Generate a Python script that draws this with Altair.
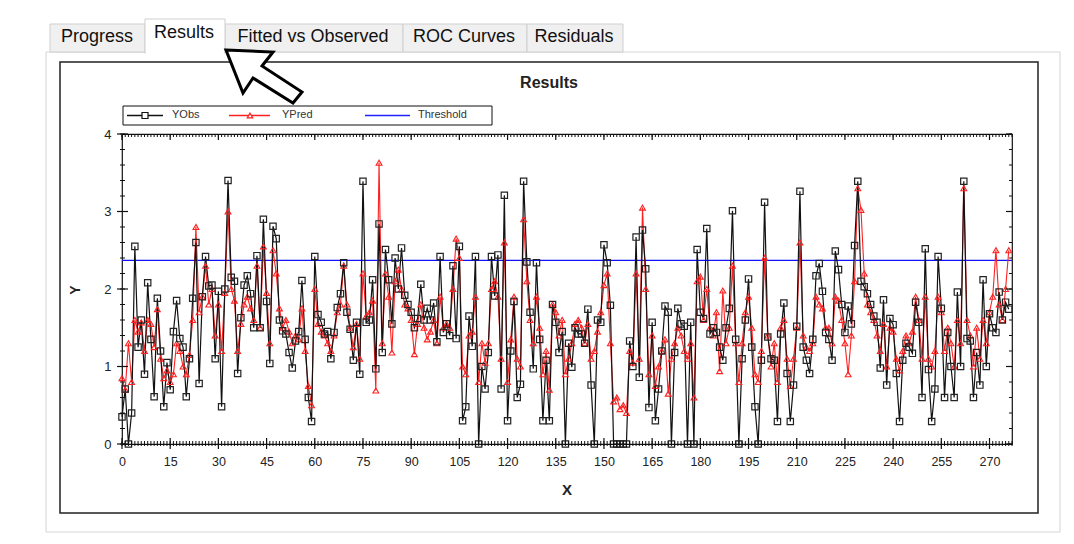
import altair as alt
import pandas as pd

FONT = "Liberation Sans"

# ---------------- data ----------------
x_max = 277
threshold = 2.37
x_tick_values = list(range(0, 271, 15))
y_tick_values = [0, 1, 2, 3, 4]
tab_labels = ["Progress", "Results", "Fitted vs Observed", "ROC Curves", "Residuals"]
legend_labels = ["YObs", "YPred", "Threshold"]
chart_title = "Results"
x_title = "X"
y_title = "Y"

y_obs = [
    0.35, 0.71, 0.0, 0.4, 2.55, 1.25, 1.6, 0.9, 2.08, 1.35,
    0.61, 1.88, 1.2, 0.48, 1.05, 0.7, 1.45, 1.85, 1.36, 1.25,
    0.61, 1.1, 1.88, 2.6, 0.78, 1.9, 2.42, 2.04, 2.05, 1.1,
    1.97, 0.48, 2.0, 3.4, 2.15, 2.1, 0.91, 1.63, 2.05, 2.17,
    1.94, 1.5, 2.43, 1.5, 2.9, 1.84, 1.04, 2.81, 2.65, 1.6,
    1.46, 1.42, 1.18, 0.98, 1.33, 1.45, 2.11, 1.35, 0.6, 0.29,
    2.42, 1.67, 1.57, 1.42, 1.45, 1.1, 1.44, 1.76, 1.94, 2.34,
    1.7, 1.48, 1.08, 1.57, 0.9, 3.39, 1.57, 1.6, 2.12, 0.97,
    2.84, 1.18, 2.51, 2.12, 1.55, 2.4, 2.0, 2.53, 1.92, 1.8,
    1.7, 1.5, 1.62, 2.06, 1.6, 1.75, 1.6, 1.82, 1.32, 2.42,
    1.44, 1.55, 1.4, 2.3, 1.36, 2.55, 0.3, 0.48, 1.65, 1.26,
    2.42, 0.0, 1.0, 0.71, 1.18, 2.42, 1.91, 2.44, 0.71, 3.21,
    0.3, 1.2, 1.84, 0.6, 0.77, 3.39, 2.35, 1.7, 0.97, 2.34,
    1.35, 0.3, 1.08, 0.3, 1.8, 1.57, 1.18, 1.45, 0.0, 1.3,
    0.99, 1.5, 1.42, 1.42, 1.3, 1.74, 0.76, 0.0, 1.6, 1.57,
    2.57, 2.34, 1.79, 0.0, 0.0, 0.0, 0.0, 0.0, 1.33, 1.0,
    2.67, 0.86, 2.76, 2.26, 0.47, 1.57, 0.3, 0.71, 1.2, 1.78,
    1.7, 0.0, 1.18, 1.75, 1.55, 1.52, 0.0, 1.57, 0.0, 2.51,
    1.7, 1.62, 2.78, 1.42, 1.5, 1.44, 1.25, 1.08, 1.5, 1.75,
    3.01, 1.35, 0.0, 1.1, 1.6, 2.13, 1.25, 0.48, 0.0, 1.08,
    3.12, 1.38, 1.1, 1.08, 0.29, 1.42, 1.82, 0.91, 0.29, 0.76,
    1.52, 3.26, 1.25, 1.08, 0.91, 1.35, 2.17, 2.33, 1.97, 1.44,
    1.35, 1.08, 2.49, 2.25, 1.8, 1.44, 1.78, 1.55, 2.56, 3.39,
    2.1, 2.03, 1.94, 1.8, 1.65, 1.57, 0.98, 1.86, 0.76, 1.62,
    1.54, 0.91, 0.29, 1.08, 1.3, 1.25, 1.17, 1.83, 1.57, 0.6,
    2.52, 0.96, 0.29, 0.71, 2.42, 1.75, 0.6, 1.44, 1.0, 0.6,
    1.96, 1.0, 3.39, 1.36, 1.33, 0.6, 1.18, 0.76, 2.12, 1.0,
    1.68, 1.5, 1.44, 1.96, 1.6, 1.83, 1.74,
]

y_pred = [
    0.85, 0.7, 1.3, 0.8, 1.6, 1.45, 1.57, 1.2, 1.6, 1.55,
    1.25, 1.74, 1.1, 0.85, 0.95, 0.8, 0.9, 1.3, 1.2, 1.0,
    0.9, 1.15, 1.6, 2.8, 1.7, 1.9, 2.3, 1.8, 2.0, 1.4,
    1.8, 1.2, 1.95, 3.0, 2.0, 1.85, 1.2, 1.55, 1.8, 1.9,
    1.75, 1.6, 2.3, 1.5, 2.55, 1.95, 1.3, 2.5, 2.2, 1.75,
    1.5, 1.6, 1.45, 1.3, 1.4, 1.35, 1.75, 1.2, 0.75, 0.5,
    2.0, 1.55, 1.45, 1.4, 1.3, 1.2, 1.4, 1.7, 1.8, 2.3,
    1.8, 1.5, 1.25, 1.55, 1.1, 2.2, 1.65, 1.7, 1.85, 0.69,
    3.63, 1.3, 2.2, 1.9, 1.18, 2.1, 2.25, 2.0, 1.8, 1.75,
    1.6, 1.16, 1.55, 1.8, 1.5, 1.35, 1.45, 1.6, 1.3, 1.9,
    1.5, 1.55, 1.5, 2.0, 2.65, 2.4, 1.0, 0.9, 1.4, 1.45,
    1.9, 0.8, 1.3, 1.05, 1.3, 2.0, 2.1, 1.9, 1.1, 2.6,
    0.8, 1.35, 1.9, 1.1, 1.0, 2.9, 2.1, 1.6, 1.3, 1.9,
    1.5, 0.9, 1.2, 0.7, 1.8, 1.7, 1.4, 1.6, 0.9, 1.1,
    1.3, 1.55, 1.6, 1.5, 1.3, 1.55, 1.1, 1.2, 1.45, 1.7,
    2.05, 2.2, 1.3, 0.55, 0.6, 0.45, 0.5, 0.4, 1.2, 1.05,
    2.2, 1.1, 3.05, 2.0, 0.9, 1.4, 0.75, 1.0, 1.2, 1.35,
    0.65, 1.1, 1.3, 1.5, 1.4, 1.2, 1.1, 1.3, 0.6, 2.1,
    2.16, 1.6, 2.0, 1.5, 1.4, 1.7, 0.94, 1.98, 1.3, 1.5,
    2.3, 1.3, 0.8, 1.3, 1.7, 1.9, 1.5, 0.9, 0.8, 1.2,
    2.4, 1.4, 1.0, 1.3, 0.8, 1.5, 1.6, 1.1, 0.75, 1.1,
    1.5, 2.6, 1.4, 1.25, 1.2, 1.3, 1.9, 1.8, 1.75, 1.5,
    1.5, 1.3, 1.9, 1.85, 1.6, 1.3, 0.9, 1.4, 2.1, 3.3,
    3.02, 2.2, 1.8, 1.7, 1.6, 1.4, 1.2, 1.55, 1.0, 1.5,
    1.45, 1.1, 0.95, 1.2, 1.4, 1.3, 1.45, 1.9, 1.6, 1.1,
    1.9, 1.1, 1.0, 1.2, 1.9, 1.7, 1.2, 1.5, 1.3, 1.0,
    1.6, 1.3, 3.3, 1.6, 1.4, 1.0, 1.5, 1.1, 1.6, 1.3,
    1.7, 1.9, 2.5, 1.8, 1.6, 2.0, 2.5,
]

n = min(len(y_obs), len(y_pred))
df = pd.DataFrame({"i": list(range(n)), "obs": y_obs[:n], "pred": y_pred[:n]})

# ---------------- layout ----------------
OX, OY = 122, 134      # plot-area origin on the page
W, H = 890, 310        # plot-area size

ONE = pd.DataFrame({"k": [0]})


def px(v):
    return v - OX


def py(v):
    return v - OY


def box(x1, y1, x2, y2, fill=None, stroke=None, sw=1.0):
    props = {"strokeWidth": sw}
    if fill is None:
        props["fill"] = "white"
        props["fillOpacity"] = 0
    else:
        props["fill"] = fill
    if stroke is not None:
        props["stroke"] = stroke
    return alt.Chart(ONE).mark_rect(**props).encode(
        x=alt.value(px(x1)), x2=alt.value(px(x2)),
        y=alt.value(py(y1)), y2=alt.value(py(y2)))


def seg(x1, y1, x2, y2, color, sw=1.0):
    return alt.Chart(ONE).mark_rule(color=color, strokeWidth=sw).encode(
        x=alt.value(px(x1)), x2=alt.value(px(x2)),
        y=alt.value(py(y1)), y2=alt.value(py(y2)))


def label(s, x, y, size=13, weight="normal", color="#111", align="center", angle=0):
    return alt.Chart(pd.DataFrame({"t": [s]})).mark_text(
        font=FONT, fontSize=size, fontWeight=weight, color=color,
        align=align, baseline="middle", angle=angle
    ).encode(x=alt.value(px(x)), y=alt.value(py(y)), text="t:N")


def marker(x, y, shape, size, stroke, fill="white", sw=1.0, filled=True):
    return alt.Chart(ONE).mark_point(
        shape=shape, size=size, filled=filled, fill=fill, stroke=stroke,
        strokeWidth=sw, opacity=1
    ).encode(x=alt.value(px(x)), y=alt.value(py(y)))


layers = []

# tab panel
layers.append(box(46, 52, 1060, 532, stroke="#d4d4d4", sw=1))
tab_edges = [(50, 145), (145, 225), (225, 403), (403, 527), (527, 623)]
tab_centers = [97, 184, 313, 464, 574]
for k, (a, b) in enumerate(tab_edges):
    if k == 1:
        continue
    layers.append(box(a, 24, b, 52, fill="#f0f0f0", stroke="#cfcfcf", sw=1))
layers.append(box(145, 19, 225, 53, fill="white", stroke="#cfcfcf", sw=1))
layers.append(box(146, 49, 224, 55, fill="white"))
for k, s in enumerate(tab_labels):
    layers.append(label(s, tab_centers[k], 33 if k == 1 else 37, size=18, color="#111"))

# chart frame and title
layers.append(box(60, 62, 1038, 513, stroke="#222", sw=1.5))
layers.append(label(chart_title, 549, 83, size=16, weight="bold", color="#222"))

# legend
layers.append(box(123, 106, 492, 125, fill="white", stroke="#111", sw=1))
layers.append(seg(127, 115.5, 163, 115.5, "#111", 1.3))
layers.append(marker(145, 115.5, "square", 36, "#111", filled=False, sw=1.2))
layers.append(label(legend_labels[0], 172, 115, size=11, color="#333", align="left"))
layers.append(seg(229, 115.5, 270, 115.5, "#ff2020", 1.3))
layers.append(marker(250, 115.5, "triangle-up", 30, "#ff2020", filled=False, sw=1.2))
layers.append(label(legend_labels[1], 282, 115, size=11, color="#333", align="left"))
layers.append(seg(365, 115.5, 410, 115.5, "#2020ff", 1.3))
layers.append(label(legend_labels[2], 418, 115, size=11, color="#333", align="left"))

# axis titles
layers.append(label(y_title, 76, 290, size=14, weight="bold", color="#222", angle=270))
layers.append(label(x_title, 567, 490, size=15, weight="bold", color="#222"))

# ---------------- data layers ----------------
xs = alt.Scale(domain=[0, x_max], nice=False, zero=False)
ys = alt.Scale(domain=[0, 4], nice=False)
x_axis = alt.Axis(values=x_tick_values, ticks=False, domain=False, grid=False,
                  labelPadding=11, labelFont=FONT, labelFontSize=12.5,
                  labelColor="#222", labelFlush=False, labelOverlap=False,
                  title=None, zindex=1, format="d")
y_axis = alt.Axis(values=y_tick_values, ticks=False, domain=False, grid=False,
                  labelPadding=11, labelFont=FONT, labelFontSize=13,
                  labelColor="#222", labelFlush=False, labelOverlap=False,
                  title=None, zindex=1, format="d")
X = alt.X("i:Q", scale=xs, axis=x_axis)

layers.append(
    alt.Chart(pd.DataFrame({"thr": [threshold]})).mark_rule(color="#1010ff", strokeWidth=1.3)
    .encode(y=alt.Y("thr:Q", scale=ys, axis=y_axis))
)
layers.append(
    alt.Chart(df).mark_line(color="#ff2020", strokeWidth=1.1)
    .encode(x=X, y=alt.Y("pred:Q", scale=ys, axis=y_axis))
)
layers.append(
    alt.Chart(df).mark_line(color="#111", strokeWidth=1.2)
    .encode(x=X, y=alt.Y("obs:Q", scale=ys, axis=y_axis))
)
layers.append(
    alt.Chart(df).mark_point(shape="triangle-up", size=34, filled=False, color="#ff2020",
                             strokeWidth=1.1, opacity=1)
    .encode(x=X, y=alt.Y("pred:Q", scale=ys, axis=y_axis))
)
layers.append(
    alt.Chart(df).mark_point(shape="square", size=40, filled=False, color="#222",
                             strokeWidth=1.2, opacity=1)
    .encode(x=X, y=alt.Y("obs:Q", scale=ys, axis=y_axis))
)

# ruler-style ticks on all four sides
xt_minor = pd.DataFrame({"t": list(range(0, x_max + 1))})
xt_major = pd.DataFrame({"t": x_tick_values})
yt_minor = pd.DataFrame({"v": [round(k * 0.2, 1) for k in range(21)]})
yt_major = pd.DataFrame({"v": y_tick_values})
XT = alt.X("t:Q", scale=xs, axis=x_axis)
YV = alt.Y("v:Q", scale=ys, axis=y_axis)
layers.append(alt.Chart(xt_minor).mark_rule(color="#111", strokeWidth=1)
              .encode(x=XT, y=alt.value(H - 3), y2=alt.value(H + 2)))
layers.append(alt.Chart(xt_minor).mark_rule(color="#111", strokeWidth=1)
              .encode(x=XT, y=alt.value(0), y2=alt.value(3)))
layers.append(alt.Chart(xt_major).mark_rule(color="#111", strokeWidth=1.2)
              .encode(x=XT, y=alt.value(H - 6), y2=alt.value(H + 5)))
layers.append(alt.Chart(xt_major).mark_rule(color="#111", strokeWidth=1.2)
              .encode(x=XT, y=alt.value(0), y2=alt.value(6)))
layers.append(alt.Chart(yt_minor).mark_rule(color="#111", strokeWidth=1)
              .encode(y=YV, x=alt.value(-2), x2=alt.value(3)))
layers.append(alt.Chart(yt_minor).mark_rule(color="#111", strokeWidth=1)
              .encode(y=YV, x=alt.value(W - 3), x2=alt.value(W)))
layers.append(alt.Chart(yt_major).mark_rule(color="#111", strokeWidth=1.2)
              .encode(y=YV, x=alt.value(-5), x2=alt.value(6)))
layers.append(alt.Chart(yt_major).mark_rule(color="#111", strokeWidth=1.2)
              .encode(y=YV, x=alt.value(W - 6), x2=alt.value(W)))

# pointer arrow (white with black outline)
arrow_path = ("M -0.76 -0.52 L 0.18 -0.48 L -0.04 -0.2 L 0.76 0.32 "
              "L 0.58 0.54 L -0.22 0.04 L -0.42 0.34 Z")
layers.append(marker(264, 76, arrow_path, 10000, "#000", fill="white", sw=3))

chart = (
    alt.layer(*layers)
    .properties(
        width=W, height=H,
        autosize=alt.AutoSizeParams(type="none"),
        padding={"left": OX, "top": OY, "right": 1074 - OX - W, "bottom": 544 - OY - H},
        background="white",
    )
    .configure_view(stroke="#111", strokeWidth=1.2)
)

chart.save("out.html", embed_options={"renderer": "svg", "actions": False})
